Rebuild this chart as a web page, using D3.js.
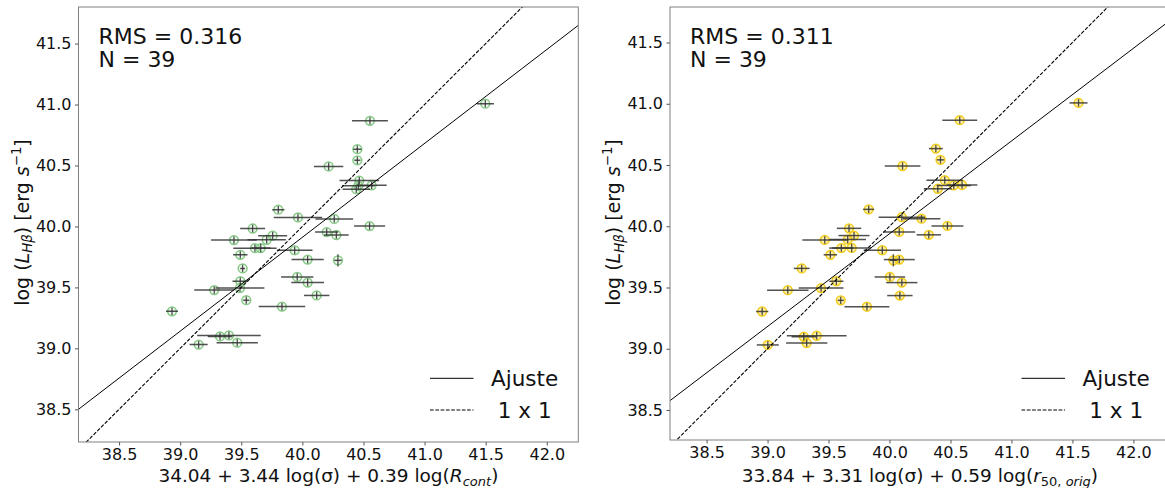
<!DOCTYPE html>
<html>
<head>
<meta charset="utf-8">
<script src="https://cdn.jsdelivr.net/npm/d3@7"></script>
<style>
  body { margin: 0; background: #fff; }
  svg { display: block; font-family: "DejaVu Sans", sans-serif; }
</style>
</head>
<body>
<div id="chart"></div>
<script>
// shared y values: log L(Hbeta)
const yVals = [41.007, 40.866, 40.634, 40.542, 40.492, 40.376, 40.333, 40.337, 40.306, 40.138,
  40.074, 40.062, 40.003, 39.983, 39.954, 39.930, 39.924, 39.891, 39.888, 39.822,
  39.823, 39.804, 39.728, 39.722, 39.767, 39.656, 39.551, 39.586, 39.540, 39.478,
  39.495, 39.434, 39.395, 39.343, 39.304, 39.098, 39.106, 39.031, 39.047];
const yErr = [0.03, 0.03, 0.03, 0.03, 0.03, 0.03, 0.03, 0.03, 0.03, 0.03,
  0.03, 0.03, 0.03, 0.03, 0.03, 0.03, 0.03, 0.03, 0.03, 0.03,
  0.035, 0.03, 0.03, 0.05, 0.03, 0.03, 0.03, 0.03, 0.03, 0.03,
  0.03, 0.03, 0.03, 0.03, 0.03, 0.03, 0.03, 0.03, 0.03];

// left panel: R_cont fit
const xLeft = [41.497, 40.553, 40.450, 40.450, 40.215, 40.466, 40.458, 40.567, 40.441, 39.803,
  39.964, 40.261, 40.550, 39.593, 40.199, 40.278, 39.757, 39.708, 39.440, 39.612,
  39.659, 39.937, 40.043, 40.291, 39.492, 39.511, 39.492, 39.958, 40.043, 39.279,
  39.489, 40.117, 39.541, 39.833, 38.933, 39.326, 39.399, 39.151, 39.467];
const xErrLeft = [0.071, 0.147, 0.033, 0.025, 0.12, 0.162, 0.134, 0.123, 0.112, 0.05,
  0.198, 0.154, 0.127, 0.102, 0.095, 0.101, 0.119, 0.157, 0.187, 0.177,
  0.08, 0.146, 0.132, 0.03, 0.059, 0.02, 0.064, 0.132, 0.134, 0.164,
  0.2, 0.104, 0.025, 0.19, 0.049, 0.1, 0.26, 0.074, 0.169];

// right panel: r50,orig fit
const xRight = [41.550, 40.576, 40.380, 40.418, 40.107, 40.453, 40.527, 40.595, 40.396, 39.829,
  40.101, 40.262, 40.475, 39.668, 40.080, 40.322, 39.709, 39.657, 39.469, 39.605,
  39.690, 39.941, 40.080, 40.031, 39.515, 39.280, 39.564, 40.003, 40.101, 39.166,
  39.439, 40.085, 39.600, 39.815, 38.956, 39.297, 39.403, 39.002, 39.321];
const xErrRight = [0.074, 0.143, 0.057, 0.03, 0.146, 0.15, 0.14, 0.125, 0.115, 0.045,
  0.19, 0.155, 0.131, 0.1, 0.13, 0.1, 0.127, 0.15, 0.184, 0.1,
  0.16, 0.153, 0.127, 0.03, 0.055, 0.065, 0.058, 0.125, 0.128, 0.17,
  0.184, 0.104, 0.025, 0.184, 0.05, 0.1, 0.245, 0.09, 0.169];

// fit lines [slope, intercept]
const fitLeft = [0.770, 9.111];
const fitRight = [0.757, 9.659];

const xTicks = [38.5, 39.0, 39.5, 40.0, 40.5, 41.0, 41.5, 42.0];
const yTicks = [38.5, 39.0, 39.5, 40.0, 40.5, 41.0, 41.5];
const legendLabels = ["Ajuste", " 1 x 1"];

const width = 1165, height = 488;
const svg = d3.select("#chart").append("svg").attr("width", width).attr("height", height);

const panels = [
  { x0: 78.5, x1: 578.3, y0: 7, y1: 442, xDom: [38.168, 42.258], yDom: [38.232, 41.80],
    xs: xLeft, xe: xErrLeft, fit: fitLeft, rms: "RMS = 0.316",
    stroke: "#86c986", fill: "rgba(160,220,160,0.18)", label: "R", sub: [["cont", true]],
    pre: "34.04 + 3.44 log(σ) + 0.39 log(" },
  { x0: 670, x1: 1170, y0: 7, y1: 440, xDom: [38.20, 42.30], yDom: [38.255, 41.79],
    xs: xRight, xe: xErrRight, fit: fitRight, rms: "RMS = 0.311",
    stroke: "#f2cc1a", fill: "rgba(255,220,60,0.45)", label: "r", sub: [["50, ", false], ["orig", true]],
    pre: "33.84 + 3.31 log(σ) + 0.59 log(" }
];

panels.forEach((p, k) => {
  const x = d3.scaleLinear().domain(p.xDom).range([p.x0, p.x1]);
  const y = d3.scaleLinear().domain(p.yDom).range([p.y1, p.y0]);
  const g = svg.append("g");

  const clipId = "clip" + k;
  svg.append("clipPath").attr("id", clipId).append("rect")
    .attr("x", p.x0).attr("y", p.y0).attr("width", p.x1 - p.x0).attr("height", p.y1 - p.y0);
  const plot = g.append("g").attr("clip-path", `url(#${clipId})`);

  // markers
  plot.selectAll("circle").data(yVals).join("circle")
    .attr("cx", (d, i) => x(p.xs[i])).attr("cy", d => y(d)).attr("r", 4.4)
    .attr("fill", p.fill).attr("stroke", p.stroke).attr("stroke-width", 1.5);

  // error bars
  plot.selectAll("line.xe").data(yVals).join("line").attr("class", "xe")
    .attr("x1", (d, i) => x(p.xs[i] - p.xe[i])).attr("x2", (d, i) => x(p.xs[i] + p.xe[i]))
    .attr("y1", d => y(d)).attr("y2", d => y(d))
    .attr("stroke", "#333").attr("stroke-opacity", 0.85).attr("stroke-width", 1.5);
  plot.selectAll("line.ye").data(yVals).join("line").attr("class", "ye")
    .attr("x1", (d, i) => x(p.xs[i])).attr("x2", (d, i) => x(p.xs[i]))
    .attr("y1", (d, i) => y(d - yErr[i])).attr("y2", (d, i) => y(d + yErr[i]))
    .attr("stroke", "#333").attr("stroke-opacity", 0.85).attr("stroke-width", 1.3);

  // fit and 1x1 lines
  const [a, b] = p.fit;
  plot.append("line")
    .attr("x1", x(p.xDom[0])).attr("y1", y(a * p.xDom[0] + b))
    .attr("x2", x(p.xDom[1])).attr("y2", y(a * p.xDom[1] + b))
    .attr("stroke", "#000").attr("stroke-width", 1);
  plot.append("line")
    .attr("x1", x(p.xDom[0])).attr("y1", y(p.xDom[0]))
    .attr("x2", x(p.xDom[1])).attr("y2", y(p.xDom[1]))
    .attr("stroke", "#000").attr("stroke-width", 1.1).attr("stroke-dasharray", "3.7,1.6");

  // frame
  g.append("rect").attr("x", p.x0).attr("y", p.y0)
    .attr("width", p.x1 - p.x0).attr("height", p.y1 - p.y0)
    .attr("fill", "none").attr("stroke", "#808080").attr("stroke-width", 1);

  // axes
  const xAxis = d3.axisBottom(x).tickValues(xTicks).tickFormat(d3.format(".1f"))
    .tickSize(3.5).tickPadding(3.5).tickSizeOuter(0);
  const yAxis = d3.axisLeft(y).tickValues(yTicks).tickFormat(d3.format(".1f"))
    .tickSize(3.5).tickPadding(3.5).tickSizeOuter(0);
  const gx = g.append("g").attr("transform", `translate(0,${p.y1})`).call(xAxis);
  const gy = g.append("g").attr("transform", `translate(${p.x0},0)`).call(yAxis);
  [gx, gy].forEach(ax => {
    ax.select(".domain").remove();
    ax.selectAll("line").attr("stroke", "#555");
    ax.selectAll("text").attr("font-size", 16).attr("fill", "#111")
      .attr("font-family", "DejaVu Sans");
  });

  // x label
  const xl = g.append("text").attr("x", p.x0 + (578.3 - 78.5) / 2).attr("y", 482)
    .attr("text-anchor", "middle").attr("font-size", 18.5).attr("fill", "#111")
    .attr("xml:space", "preserve").style("white-space", "pre");
  xl.append("tspan").text(p.pre);
  xl.append("tspan").attr("font-style", "italic").text(p.label);
  p.sub.forEach(([s, it], j) => {
    const t = xl.append("tspan").attr("font-size", 13).attr("font-style", it ? "italic" : "normal").text(s);
    if (j === 0) t.attr("dy", 3.5);
  });
  xl.append("tspan").attr("dy", -3.5).text(")");

  // y label
  const cy = (p.y0 + 442) / 2 - 2;
  const yl = g.append("text")
    .attr("transform", `translate(${p.x0 - 50},${cy}) rotate(-90)`)
    .attr("text-anchor", "middle").attr("font-size", 19).attr("fill", "#111");
  yl.append("tspan").text("log (");
  yl.append("tspan").attr("font-style", "italic").text("L");
  yl.append("tspan").attr("font-style", "italic").attr("font-size", 13.3).attr("dy", 3.5).text("Hβ");
  yl.append("tspan").attr("dy", -3.5).text(") [erg ");
  yl.append("tspan").attr("font-style", "italic").text("s");
  yl.append("tspan").attr("font-size", 13.3).attr("dy", -8).text("−1");
  yl.append("tspan").attr("dy", 8).text("]");

  // RMS / N text
  g.append("text").attr("x", p.x0 + 20).attr("y", 44).attr("font-size", 22).attr("fill", "#111").text(p.rms);
  g.append("text").attr("x", p.x0 + 20).attr("y", 67).attr("font-size", 22).attr("fill", "#111").text("N = 39");

  // legend
  const lx = p.x0 + 351.5;
  const ly = [378.3, 410];
  ly.forEach((yy, i) => {
    g.append("line").attr("x1", lx).attr("x2", lx + 43.5).attr("y1", yy).attr("y2", yy)
      .attr("stroke", "#000").attr("stroke-width", 1)
      .attr("stroke-dasharray", i === 1 ? "3.7,1.6" : null);
    g.append("text").attr("x", p.x0 + 412.5).attr("y", yy + 7.5).attr("font-size", 21.5)
      .attr("fill", "#111").attr("xml:space", "preserve").style("white-space", "pre")
      .text(legendLabels[i]);
  });
});
</script>
</body>
</html>
